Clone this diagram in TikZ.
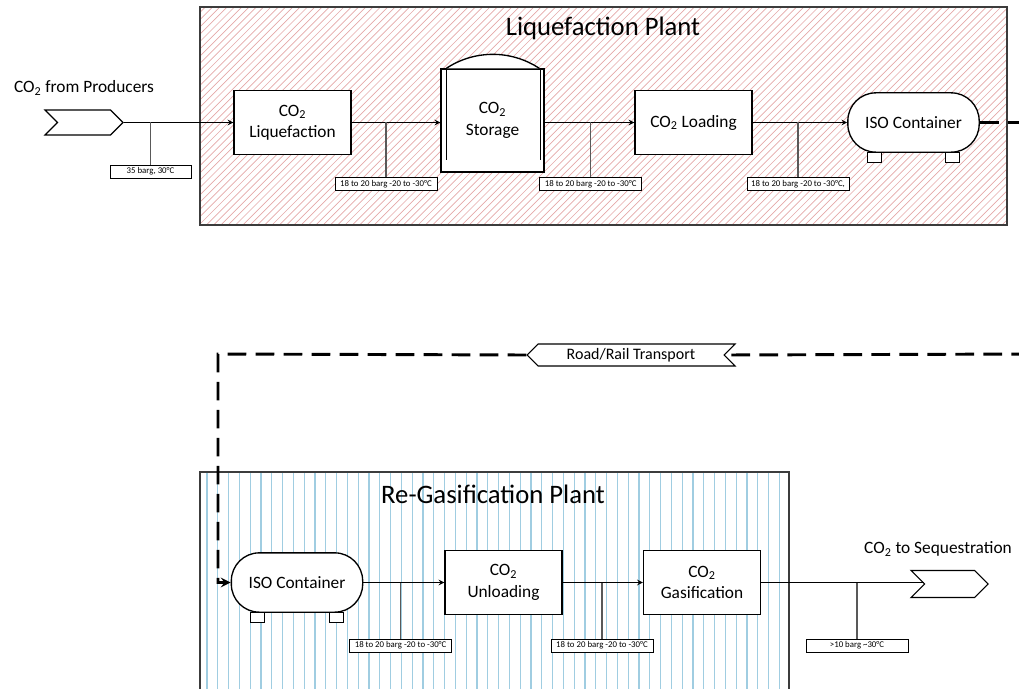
\documentclass[tikz,border=0pt]{standalone}
\usepackage{fontspec}
\setmainfont{Carlito}
\usetikzlibrary{positioning,calc,shapes.symbols}
\definecolor{hatchred}{RGB}{228,168,168}
\definecolor{hatchblue}{RGB}{160,205,225}
\definecolor{frame}{RGB}{60,60,60}
\newcommand{\COtwo}{CO\textsubscript{2}}

\begin{document}
\begin{tikzpicture}[
    x=0.75pt, y=-0.75pt,
    >=stealth,
    procbox/.style   = {draw, fill=white, line width=1pt, minimum width=87.75pt, minimum height=48pt,
                        align=center, inner sep=2pt, font=\fontsize{13}{16}\selectfont},
    isobox/.style    = {draw, fill=white, line width=1pt, rounded corners=21pt, minimum width=98.5pt,
                        minimum height=44.5pt, inner sep=2pt, font=\fontsize{13}{16}\selectfont},
    tagbox/.style    = {draw, fill=white, line width=.7pt, minimum width=76.5pt, minimum height=9.75pt,
                        inner sep=0pt, font=\fontsize{6.6}{7}\selectfont},
    chev/.style      = {draw, fill=white, line width=.8pt, signal, inner sep=1pt},
    leg/.style       = {draw, fill=white, line width=.8pt},
    flow/.style      = {->, line width=.9pt},
    branch/.style    = {line width=.9pt, black!65},
    transport/.style = {line width=2.2pt, dash pattern=on 14pt off 7pt},
    plant/.style     = {draw=frame, line width=1.1pt},
    title/.style     = {font=\fontsize{20}{24}\selectfont},
    caption/.style   = {font=\fontsize{13}{16}\selectfont},
  ]
  \useasboundingbox (0,0) rectangle (1019,688);
  \clip (0,0) rectangle (1019,688);

  % Liquefaction Plant
  \begin{scope}
    \clip (200,7) rectangle (1007,225);
    \foreach \x in {-20,-12.7,...,1010}
      \draw[hatchred, line width=.5pt] (\x,225) -- ++(218,-218);
  \end{scope}
  \draw[plant] (200,7) rectangle (1007,225);
  \node[title] (lqtitle) at (603,28) {Liquefaction Plant};

  % Re-Gasification Plant
  \begin{scope}
    \clip (200,472) rectangle (789,700);
    \foreach \x in {207,217.8,...,789}
      \draw[hatchblue, line width=.9pt] (\x,472) -- (\x,700);
  \end{scope}
  \draw[plant] (789,700) -- (789,472) -- (200,472) -- (200,700);
  \node[title] (rgtitle) at (493,494) {Re-Gasification Plant};

  % upper row
  \node[caption] (srctxt) at (84,88) {\COtwo{} from Producers};
  \node[chev, signal to=east, signal from=west, minimum width=58.5pt, minimum height=18.75pt] (src) at (84,122.5) {};
  \node[procbox] (lq) at (292.5,122.5) {\COtwo\\Liquefaction};
  \node[draw, fill=white, line width=1pt, minimum width=77.25pt, minimum height=77.25pt,
        align=center, font=\fontsize{13}{16}\selectfont] (st) at (492.5,120.5) {\COtwo\\Storage};
  \fill[white] ($(st.north west)+(6,0)$) arc[start angle=-123.5, end angle=-56.5, radius=84.2] -- cycle;
  \draw[line width=1pt] ($(st.north west)+(6,0)$) arc[start angle=-123.5, end angle=-56.5, radius=84.2];
  \draw[line width=1pt] ($(st.north west)+(6,0)$) -- ($(st.south west)+(6,-13)$);
  \draw[line width=1pt] ($(st.north east)+(-4,0)$) -- ($(st.south east)+(-4,-13)$);
  \node[procbox] (ld) at (693.5,122.5) {\COtwo{} Loading};
  \node[isobox] (iso1) at (913.5,122.5) {ISO Container};

  % conditions
  \node[tagbox, minimum width=60.75pt] (t1) at (150.5,171.5) {35 barg, 30°C};
  \node[tagbox] (t2) at (386,184) {18 to 20 barg -20 to -30°C};
  \node[tagbox] (t3) at (590.7,184) {18 to 20 barg -20 to -30°C};
  \node[tagbox] (t4) at (798,184) {18 to 20 barg -20 to -30°C,};

  \draw[flow] (src.east) -- (lq.west |- src.east);
  \draw[flow] (lq.east) -- (lq.east -| st.west);
  \draw[flow] (ld.west -| st.east) -- (ld.west);
  \draw[flow] (ld.east) -- (iso1.west);
  \draw[branch] (t1.north) -- (t1.north |- src.east);
  \draw[branch] (t2.north) -- (t2.north |- lq.east);
  \draw[branch] (t3.north) -- (t3.north |- ld.west);
  \draw[branch] (t4.north) -- (t4.north |- ld.east);

  % lower row
  \node[isobox] (iso2) at (297,582.5) {ISO Container};
  \node[procbox] (un) at (503.5,582.5) {\COtwo\\Unloading};
  \node[procbox] (gs) at (702,582.5) {\COtwo\\Gasification};
  \node[caption] (snktxt) at (938,549) {\COtwo{} to Sequestration};
  \node[chev, signal to=east, signal from=west, minimum width=57.75pt, minimum height=20.25pt] (snk) at (949.5,584) {};

  \node[tagbox] (t5) at (400.6,645.5) {18 to 20 barg -20 to -30°C};
  \node[tagbox] (t6) at (602,645.5) {18 to 20 barg -20 to -30°C};
  \node[tagbox] (t7) at (857,645.5) {>10 barg \textasciitilde30°C};

  \draw[flow] (iso2.east) -- (un.west);
  \draw[flow] (un.east) -- (gs.west);
  \draw[line width=.9pt] (gs.east) -- (gs.east -| snk.west);
  \draw[branch] (t5.north) -- (t5.north |- iso2.east);
  \draw[branch] (t6.north) -- (t6.north |- un.east);
  \draw[branch] (t7.north) -- (t7.north |- gs.east);

  \foreach \n in {iso1,iso2} {
    \draw[leg] ($(\n.south west)+(20,0)$) rectangle ++(14,9.5);
    \draw[leg] ($(\n.south east)+(-34,0)$) rectangle ++(14,9.5);
  }

  % transport
  \node[chev, signal to=west, signal from=east, minimum width=156pt, minimum height=16.5pt,
        font=\fontsize{12}{14}\selectfont] (rr) at (631,355) {Road/Rail Transport};
  \coordinate (exitT) at (1030,122.5);
  \coordinate (exitB) at (1030,354);
  \coordinate (bend) at (218,354);
  \draw[transport] (iso1.east) -- (exitT);
  \draw[transport] (exitB) -- (rr.east);
  \draw[transport,->] (rr.west) -- (bend) |- (iso2.west);

\end{tikzpicture}
\end{document}
